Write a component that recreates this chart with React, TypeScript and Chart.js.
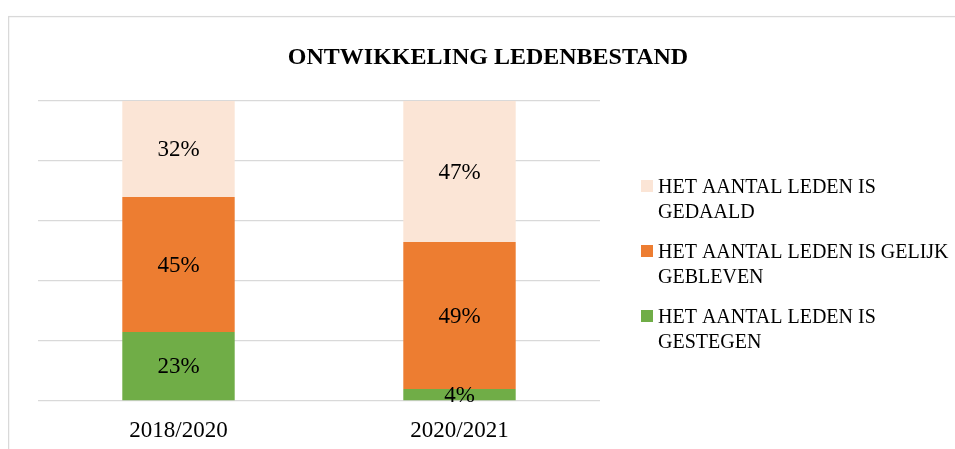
import React, { useEffect, useRef } from "react";
import { Chart, registerables } from "chart.js";

Chart.register(...registerables);

const categories = ["2018/2020", "2020/2021"];
const gestegen = [23, 4];
const gelijk = [45, 49];
const gedaald = [32, 47];
const seriesLabels = [
  "HET AANTAL LEDEN IS GESTEGEN",
  "HET AANTAL LEDEN IS GELIJK GEBLEVEN",
  "HET AANTAL LEDEN IS GEDAALD",
];
const seriesColors = ["#70AD47", "#ED7D31", "#FBE5D6"];
const titleText = "ONTWIKKELING LEDENBESTAND";
const yMin = 0;
const yMax = 100;
const yStep = 20;

const FONT = '"Liberation Serif", "DejaVu Serif", serif';
const W = 960;
const H = 441;

function wrap(ctx: CanvasRenderingContext2D, text: string, maxW: number): string[] {
  const words = text.split(" ");
  const lines: string[] = [];
  let cur = "";
  for (const w of words) {
    const t = cur ? cur + " " + w : w;
    if (ctx.measureText(t).width > maxW && cur) {
      lines.push(cur);
      cur = w;
    } else cur = t;
  }
  if (cur) lines.push(cur);
  return lines;
}

const framePlugin = {
  id: "frameTitle",
  beforeDraw(chart: any) {
    const ctx = chart.ctx;
    ctx.save();
    ctx.fillStyle = "#ffffff";
    ctx.fillRect(0, 0, chart.width, chart.height);
    ctx.strokeStyle = "#d9d9d9";
    ctx.lineWidth = 1.3;
    ctx.strokeRect(0.6, 8.6, chart.width + 20, chart.height + 20);
    ctx.fillStyle = "#000000";
    ctx.font = `bold 24px ${FONT}`;
    ctx.textAlign = "center";
    ctx.textBaseline = "alphabetic";
    ctx.fillText(titleText, 480, 56);
    ctx.restore();
  },
};

const labelPlugin = {
  id: "segLabels",
  afterDatasetsDraw(chart: any) {
    const ctx = chart.ctx;
    ctx.save();
    ctx.fillStyle = "#000000";
    ctx.font = `23px ${FONT}`;
    ctx.textAlign = "center";
    ctx.textBaseline = "middle";
    chart.data.datasets.forEach((ds: any, di: number) => {
      const meta = chart.getDatasetMeta(di);
      meta.data.forEach((el: any, i: number) => {
        const p = el.getCenterPoint();
        ctx.fillText(ds.data[i] + "%", p.x, p.y + 1);
      });
    });
    ctx.restore();
  },
};

const legendPlugin = {
  id: "wrapLegend",
  afterDraw(chart: any) {
    const ctx = chart.ctx;
    ctx.save();
    ctx.font = `20px ${FONT}`;
    ctx.textAlign = "left";
    ctx.textBaseline = "alphabetic";
    const dsList = chart.data.datasets.slice().reverse();
    let base = 185;
    dsList.forEach((ds: any) => {
      ctx.fillStyle = ds.backgroundColor;
      ctx.fillRect(633, base - 13, 12, 12);
      ctx.fillStyle = "#000000";
      const lines = wrap(ctx, ds.label, 300);
      lines.forEach((ln, k) => ctx.fillText(ln, 650, base + k * 25));
      base += 65;
    });
    ctx.restore();
  },
};

export default function App() {
  const ref = useRef<HTMLCanvasElement | null>(null);
  useEffect(() => {
    if (!ref.current) return;
    const series = [gestegen, gelijk, gedaald];
    const chart = new Chart(ref.current, {
      type: "bar",
      data: {
        labels: categories,
        datasets: series.map((d, i) => ({
          label: seriesLabels[i],
          data: d,
          backgroundColor: seriesColors[i],
          borderWidth: 0,
          barPercentage: 0.4,
          categoryPercentage: 1,
        })),
      },
      options: {
        responsive: false,
        animation: false,
        devicePixelRatio: 1,
        layout: { padding: { left: 30, right: 368, top: 93, bottom: 8 } },
        plugins: {
          legend: { display: false },
          title: { display: false },
          tooltip: { enabled: false },
        },
        scales: {
          x: {
            stacked: true,
            grid: { display: false },
            border: { display: false },
            ticks: { color: "#000000", font: { family: FONT, size: 23 }, padding: 8 },
            afterFit: (s: any) => {
              s.height = 40;
            },
          },
          y: {
            stacked: true,
            min: yMin,
            max: yMax,
            ticks: { display: false, stepSize: yStep },
            grid: { color: "#d9d9d9", lineWidth: 1.3, drawTicks: false },
            border: { display: false },
            afterFit: (s: any) => {
              s.width = 0;
            },
          },
        },
      },
      plugins: [framePlugin, labelPlugin, legendPlugin],
    });
    return () => chart.destroy();
  }, []);
  return (
    <div style={{ position: "fixed", left: 8, top: 8, width: 947, height: 441, overflow: "hidden" }}>
      <canvas ref={ref} width={W} height={H} style={{ display: "block", width: W, height: H }} />
    </div>
  );
}
